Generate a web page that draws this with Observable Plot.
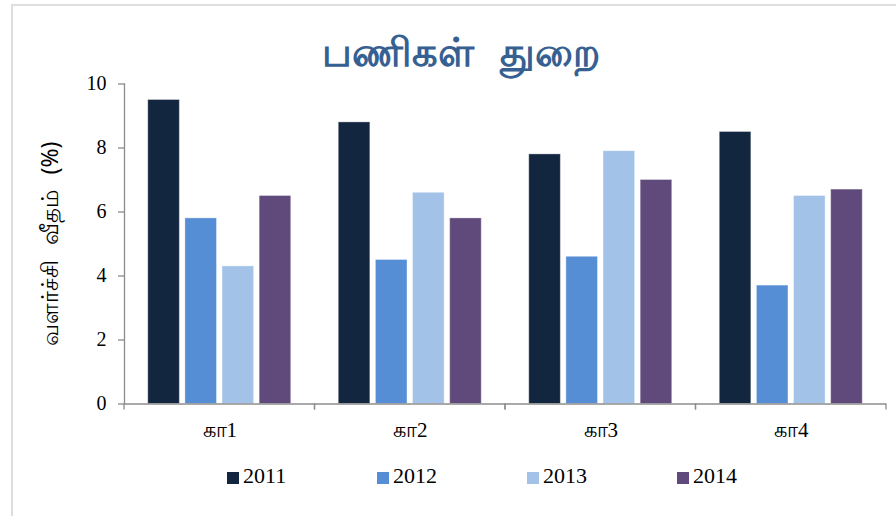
<!DOCTYPE html>
<html><head><meta charset="utf-8">
<script src="https://cdn.jsdelivr.net/npm/d3@7"></script>
<script src="https://cdn.jsdelivr.net/npm/@observablehq/plot@0.6"></script>
<style>
body{margin:0;background:#fff;}
#wrap{position:relative;width:896px;height:516px;overflow:hidden;background:#fff;}
#border{position:absolute;left:11px;top:4px;width:900px;height:520px;border-left:2px solid #dedede;border-top:2px solid #dedede;}
#title{position:absolute;left:0;width:922px;top:29px;line-height:44px;text-align:center;font-weight:bold;font-size:40px;word-spacing:16px;font-family:"Noto Sans","DejaVu Sans",sans-serif;color:#376092;}
#chart{position:absolute;left:0;top:70px;}
#legend{position:absolute;left:0;top:0;width:896px;height:516px;pointer-events:none;}
.item{position:absolute;top:464px;font-family:"Liberation Serif","Times New Roman",serif;font-size:22px;line-height:24px;color:#000;white-space:nowrap;}
.sw{display:inline-block;width:12px;height:12px;margin-right:4px;vertical-align:-1px;}
</style></head>
<body>
<div id="wrap">
<div id="border"></div>
<div id="title"></div>
<div id="chart"></div>
<div id="legend"></div>
</div>
<script>
const titleText = "பணிகள் துறை";
const yLabel = "வளர்ச்சி வீதம் (%)";
const categories = ["கா1", "கா2", "கா3", "கா4"];
const years = ["2011", "2012", "2013", "2014"];
const v2011 = [9.5, 8.8, 7.8, 8.5];
const v2012 = [5.8, 4.5, 4.6, 3.7];
const v2013 = [4.3, 6.6, 7.9, 6.5];
const v2014 = [6.5, 5.8, 7.0, 6.7];
const yTicks = [0, 2, 4, 6, 8, 10];
const colors = ["#13263F", "#558ED5", "#A3C2E8", "#604A7B"];

const series = [v2011, v2012, v2013, v2014];
const data = [];
categories.forEach((c, i) => years.forEach((yr, j) => data.push({cat: c, year: yr, value: series[j][i]})));

const axisColor = "#8c8c8c";
const serif = "Liberation Serif, Times New Roman, serif";

function separators(index, scales) {
  const [x0, x1] = scales.x.range();
  const y0 = scales.y(0);
  const g = d3.create("svg:g").attr("stroke", axisColor).attr("stroke-width", 1.3);
  for (const x of [x0, x1]) {
    g.append("line").attr("x1", x).attr("x2", x).attr("y1", y0).attr("y2", y0 + 6);
  }
  return g.node();
}

const plot = Plot.plot({
  width: 896,
  height: 385,
  marginLeft: 124,
  marginRight: 10,
  marginTop: 13.5,
  marginBottom: 51.5,
  style: {background: "transparent", color: "#000", wordSpacing: "9px"},
  fx: {domain: categories, padding: 0, axis: null, round: false},
  x: {domain: years, paddingInner: 0.15, paddingOuter: 0.64, axis: null, round: false},
  y: {domain: [0, 10], axis: null},
  color: {domain: years, range: colors},
  marks: [
    Plot.barY(data, {fx: "cat", x: "year", y: "value", fill: "year", stroke: "#ffffff", strokeOpacity: 0.35, strokeWidth: 1}),
    Plot.ruleY([0], {stroke: axisColor, strokeWidth: 1.3}),
    Plot.frame({anchor: "left", facetAnchor: "left", stroke: axisColor, strokeWidth: 1.3}),
    separators,
    Plot.axisY({ticks: yTicks, tickSize: 6, tickPadding: 12, fontSize: 20, fontFamily: serif, stroke: axisColor, strokeWidth: 1.3, label: null, tickFormat: d => String(d)}),
    Plot.axisY({ticks: [], label: yLabel, labelAnchor: "center", labelArrow: "none", labelOffset: 83, fontSize: 23, fontFamily: "Noto Sans, DejaVu Sans, sans-serif"}),
    Plot.axisFx({anchor: "bottom", tickSize: 0, tickPadding: 18, fontSize: 21, fontFamily: serif, label: null})
  ]
});
document.getElementById("chart").appendChild(plot);
document.getElementById("title").textContent = titleText;

const legend = document.getElementById("legend");
years.forEach((yr, i) => {
  const d = document.createElement("div");
  d.className = "item";
  d.style.left = (227 + i * 150) + "px";
  const sw = document.createElement("span");
  sw.className = "sw";
  sw.style.background = colors[i];
  d.appendChild(sw);
  d.appendChild(document.createTextNode(yr));
  legend.appendChild(d);
});
</script>
</body></html>
